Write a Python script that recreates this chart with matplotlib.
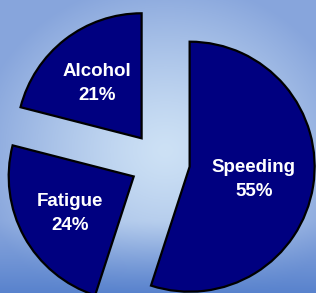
import matplotlib
matplotlib.use("Agg")
import matplotlib.pyplot as plt
import numpy as np

# data
causes = ["Speeding", "Fatigue", "Alcohol"]
shares = [55, 24, 21]
label_r = [0.52, 0.58, 0.58]   # how far out each label sits

fig = plt.figure(figsize=(3.16, 2.93), dpi=100)

# background: soft radial glow, darker towards the bottom
bg = fig.add_axes([0, 0, 1, 1])
bg.axis("off")
h, w = 293, 316
yy, xx = np.mgrid[0:h, 0:w]
d = np.sqrt(((xx - 165) / 190.0) ** 2 + ((yy - 150) / 170.0) ** 2)
d = np.clip(d, 0, 1)
inner = np.array([205, 225, 245]) / 255.0
outer = np.array([135, 165, 220]) / 255.0
img = inner + (outer - inner) * d[..., None] ** 1.3
bottom = np.clip((yy - 220) / 73.0, 0, 1)[..., None]
img = img + (np.array([88, 130, 205]) / 255.0 - img) * bottom ** 1.2
bg.imshow(np.clip(img, 0, 1), aspect="auto", extent=[0, 1, 0, 1])

ax = fig.add_axes([0, 0, 1, 1])
ax.axis("off")
wedges, _ = ax.pie(shares, explode=[0.24, 0.24, 0.24], startangle=90,
                   counterclock=False, colors=["#000080"] * 3,
                   wedgeprops=dict(edgecolor="black", linewidth=1.6))

for wdg, name, val, r in zip(wedges, causes, shares, label_r):
    ang = np.deg2rad((wdg.theta1 + wdg.theta2) / 2)
    cx, cy = wdg.center
    ax.text(cx + r * np.cos(ang), cy + r * np.sin(ang) - 0.02, f"{name}\n{val}%",
            ha="center", va="center", color="white", fontsize=13.5,
            fontweight="bold", family="Liberation Sans", linespacing=1.55)

ax.set_xlim(-1.28, 1.248)
ax.set_ylim(-1.048, 1.296)
ax.set_aspect("auto")

fig.savefig("out.png", dpi=100)
